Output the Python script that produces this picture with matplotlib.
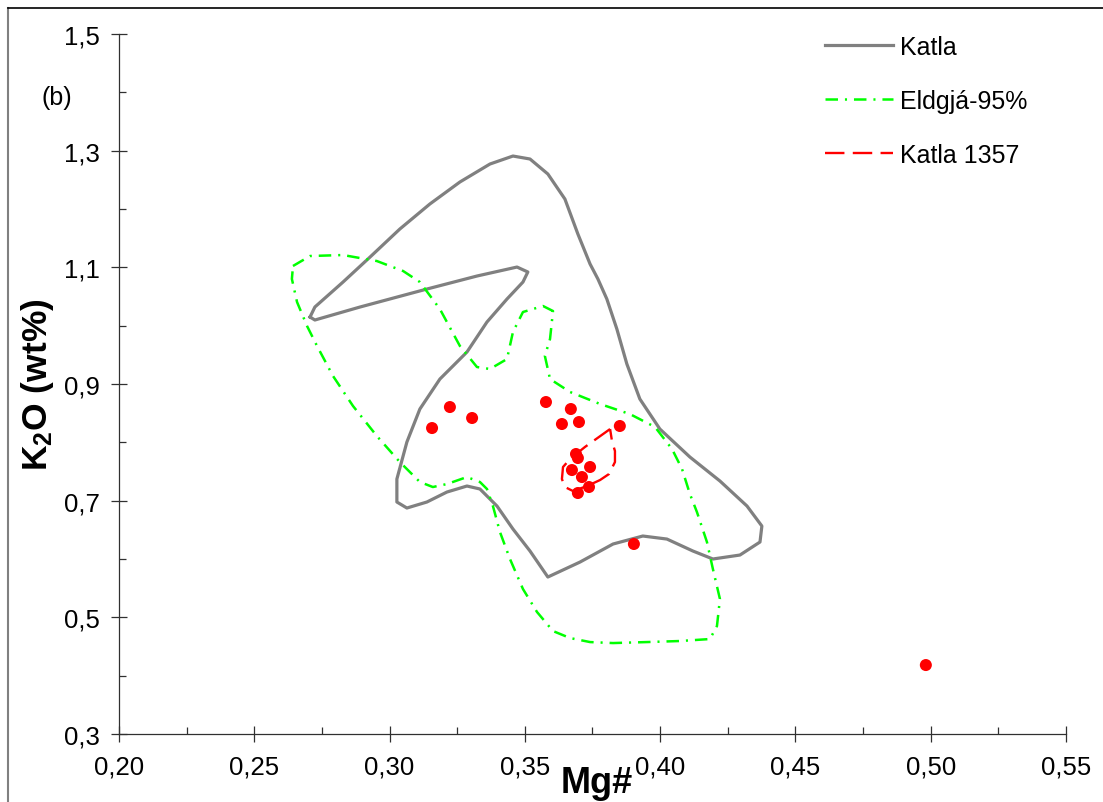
import matplotlib
matplotlib.use('Agg')
import matplotlib.pyplot as plt
from matplotlib.lines import Line2D
from matplotlib.ticker import MultipleLocator, FuncFormatter

plt.rcParams['font.family'] = ['Liberation Sans', 'DejaVu Sans']
plt.rcParams['mathtext.fontset'] = 'custom'
plt.rcParams['mathtext.rm'] = 'Liberation Sans:bold'
plt.rcParams['mathtext.it'] = 'Liberation Sans:bold'
plt.rcParams['mathtext.bf'] = 'Liberation Sans:bold'
plt.rcParams['lines.scale_dashes'] = False

# Katla field outline (Mg#, K2O)
katla_mg = [0.2706, 0.2724, 0.2828, 0.2928, 0.3038, 0.3149, 0.3260, 0.3371, 0.3456, 0.3519,
            0.3585, 0.3648, 0.3696, 0.3741, 0.3770, 0.3803, 0.3840, 0.3877, 0.3925, 0.3999,
            0.4110, 0.4221, 0.4321, 0.4376, 0.4369, 0.4295, 0.4195, 0.4121, 0.4025, 0.3936,
            0.3826, 0.3704, 0.3585, 0.3519, 0.3456, 0.3397, 0.3334, 0.3286, 0.3212, 0.3138,
            0.3064, 0.3027, 0.3027, 0.3064, 0.3112, 0.3186, 0.3286, 0.3360, 0.3434, 0.3493,
            0.3511, 0.3471, 0.3323, 0.3138, 0.2891, 0.2724, 0.2706]
katla_k2o = [1.0148, 1.0320, 1.0748, 1.1177, 1.1657, 1.2086, 1.2463, 1.2771, 1.2908, 1.2857,
             1.2600, 1.2171, 1.1571, 1.1057, 1.0800, 1.0457, 0.9943, 0.9343, 0.8743, 0.8228,
             0.7748, 0.7337, 0.6908, 0.6565, 0.6291, 0.6068, 0.6000, 0.6137, 0.6342, 0.6394,
             0.6257, 0.5948, 0.5691, 0.6137, 0.6514, 0.6908, 0.7200, 0.7251, 0.7148, 0.6977,
             0.6874, 0.6977, 0.7371, 0.8005, 0.8571, 0.9085, 0.9548, 1.0063, 1.0457, 1.0748,
             1.0920, 1.1005, 1.0851, 1.0628, 1.0320, 1.0097, 1.0148]

# Eldgja 95% field
eldgja_mg = [0.2643, 0.2706, 0.2828, 0.2953, 0.3050, 0.3112, 0.3186, 0.3260, 0.3323, 0.3371,
             0.3434, 0.3456, 0.3493, 0.3567, 0.3604, 0.3593, 0.3574, 0.3593, 0.3667, 0.3778,
             0.3888, 0.3981, 0.4044, 0.4081, 0.4110, 0.4136, 0.4173, 0.4195, 0.4221, 0.4210,
             0.4184, 0.4073, 0.3951, 0.3826, 0.3741, 0.3667, 0.3604, 0.3545, 0.3493, 0.3445,
             0.3408, 0.3382, 0.3360, 0.3334, 0.3286, 0.3212, 0.3160, 0.3112, 0.3038, 0.2953,
             0.2865, 0.2791, 0.2732, 0.2695, 0.2658, 0.2639, 0.2643]
eldgja_k2o = [1.1023, 1.1194, 1.1211, 1.1108, 1.0937, 1.0748, 1.0285, 0.9651, 0.9291, 0.9257,
              0.9428, 0.9891, 1.0234, 1.0337, 1.0251, 0.9771, 0.9480, 0.9085, 0.8863, 0.8657,
              0.8485, 0.8263, 0.7885, 0.7542, 0.7114, 0.6805, 0.6291, 0.5828, 0.5314, 0.4851,
              0.4628, 0.4594, 0.4576, 0.4559, 0.4576, 0.4645, 0.4765, 0.5091, 0.5485, 0.6000,
              0.6462, 0.6908, 0.7200, 0.7320, 0.7405, 0.7285, 0.7234, 0.7320, 0.7662, 0.8108,
              0.8622, 0.9137, 0.9651, 0.9994, 1.0405, 1.0800, 1.1023]

# Katla 1357 field
k1357_mg = [0.3815, 0.3722, 0.3667, 0.3641, 0.3637, 0.3648, 0.3678, 0.3730, 0.3778, 0.3811,
            0.3833, 0.3833, 0.3822, 0.3815]
k1357_k2o = [0.8228, 0.7920, 0.7714, 0.7577, 0.7371, 0.7234, 0.7165, 0.7251, 0.7354, 0.7457,
             0.7662, 0.7851, 0.8022, 0.8228]

# samples
samples_mg = [0.3157, 0.3223, 0.3305, 0.3578, 0.3670, 0.3637, 0.3700, 0.3851, 0.3689,
              0.3696, 0.3741, 0.3674, 0.3711, 0.3737, 0.3696, 0.3903, 0.4982]
samples_k2o = [0.8245, 0.8605, 0.8417, 0.8691, 0.8571, 0.8314, 0.8348, 0.8280, 0.7800,
               0.7731, 0.7577, 0.7525, 0.7405, 0.7234, 0.7131, 0.6257, 0.4182]

W, H = 1103, 803
fig = plt.figure(figsize=(W / 100, H / 100), dpi=100)
ax = fig.add_axes([119 / W, 1 - 735 / H, (1066 - 119) / W, (735 - 35) / H])

ax.plot(katla_mg, katla_k2o, color='#808080', lw=2.3, solid_joinstyle='round', label='Katla', zorder=2)
ax.plot(eldgja_mg, eldgja_k2o, color='#00ff00', lw=1.8, linestyle=(0, (9, 5, 1.5, 5)),
        dash_capstyle='butt', label='Eldgjá-95%', zorder=3)
ax.plot(k1357_mg, k1357_k2o, color='#ff0000', lw=1.7, linestyle=(0, (14, 6)),
        label='Katla 1357', zorder=3)
ax.scatter(samples_mg, samples_k2o, s=75, color='#ff0000', edgecolors='none', zorder=4)

ax.set_xlim(0.20, 0.55)
ax.set_ylim(0.3, 1.5)
ax.xaxis.set_major_locator(MultipleLocator(0.05))
ax.xaxis.set_minor_locator(MultipleLocator(0.025))
ax.yaxis.set_major_locator(MultipleLocator(0.2, offset=0.1))
ax.yaxis.set_minor_locator(MultipleLocator(0.1))
ax.xaxis.set_major_formatter(FuncFormatter(lambda v, p: f'{v:.2f}'.replace('.', ',')))
ax.yaxis.set_major_formatter(FuncFormatter(lambda v, p: f'{v:.1f}'.replace('.', ',')))

for s in ['top', 'right']:
    ax.spines[s].set_visible(False)
for s in ['left', 'bottom']:
    ax.spines[s].set_color('#303030')
    ax.spines[s].set_linewidth(0.9)

ax.tick_params(which='major', direction='inout', length=12, width=0.9, color='#303030',
               labelsize=18.5)
ax.tick_params(axis='x', which='major', pad=9)
ax.tick_params(axis='y', which='major', pad=8)
ax.tick_params(which='minor', direction='in', length=5, width=0.9, color='#303030')

ax.legend(loc='upper left', bbox_to_anchor=(825 / W, 1 - 36 / H), bbox_transform=fig.transFigure,
          frameon=False, fontsize=18, handlelength=2.72, handletextpad=0.28,
          labelspacing=1.2, borderpad=0, borderaxespad=0)

fig.text(597 / W, 1 - 793 / H, 'Mg#', ha='center', va='baseline', fontsize=26, fontweight='bold')
fig.text(37 / W, 1 - 385 / H, r'K$_2$O (wt%)', rotation=90, ha='center', va='center',
         fontsize=25.5, fontweight='bold')
fig.text(57 / W, 1 - 98 / H, '(b)', ha='center', va='center', fontsize=18)

# frame around the chart
fig.add_artist(Line2D([8 / W, 8 / W], [0, 1 - 9 / H], transform=fig.transFigure, color='#808080', lw=1.5))
fig.add_artist(Line2D([8 / W, 1], [1 - 9 / H, 1 - 9 / H], transform=fig.transFigure, color='black', lw=1.2))

fig.savefig('out.png', dpi=100)
